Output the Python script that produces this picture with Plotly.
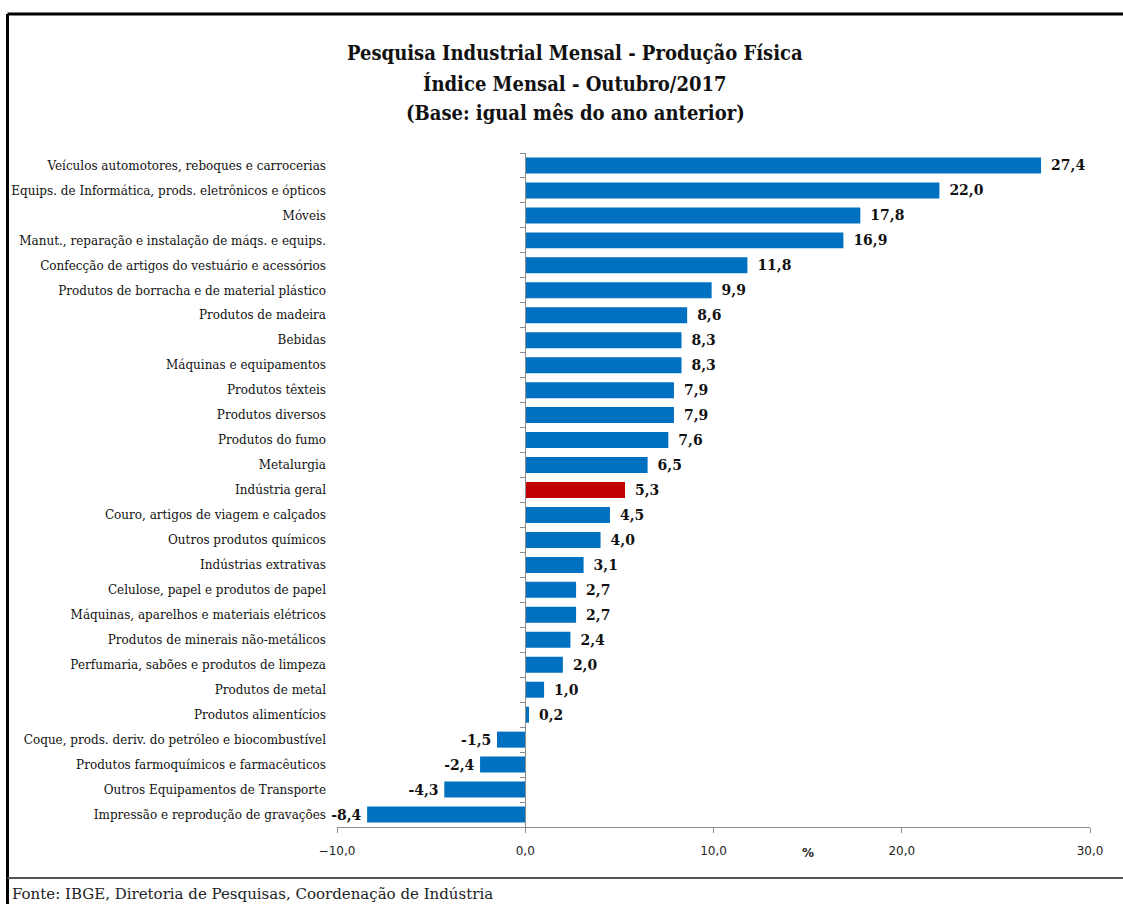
import plotly.graph_objects as go

categories = [
    "Veículos automotores, reboques e carrocerias",
    "Equips. de Informática, prods. eletrônicos e ópticos",
    "Móveis",
    "Manut., reparação e instalação de máqs. e equips.",
    "Confecção de artigos do vestuário e acessórios",
    "Produtos de borracha e de material plástico",
    "Produtos de madeira",
    "Bebidas",
    "Máquinas e equipamentos",
    "Produtos têxteis",
    "Produtos diversos",
    "Produtos do fumo",
    "Metalurgia",
    "Indústria geral",
    "Couro, artigos de viagem e calçados",
    "Outros produtos químicos",
    "Indústrias extrativas",
    "Celulose, papel e produtos de papel",
    "Máquinas, aparelhos e materiais elétricos",
    "Produtos de minerais não-metálicos",
    "Perfumaria, sabões e produtos de limpeza",
    "Produtos de metal",
    "Produtos alimentícios",
    "Coque, prods. deriv. do petróleo e biocombustível",
    "Produtos farmoquímicos e farmacêuticos",
    "Outros Equipamentos de Transporte",
    "Impressão e reprodução de gravações",
]
values = [27.4, 22.0, 17.8, 16.9, 11.8, 9.9, 8.6, 8.3, 8.3, 7.9, 7.9, 7.6, 6.5,
          5.3, 4.5, 4.0, 3.1, 2.7, 2.7, 2.4, 2.0, 1.0, 0.2, -1.5, -2.4, -4.3, -8.4]
highlight = "Indústria geral"
x_ticks = [-10, 0, 10, 20, 30]

BLUE = "#0070C0"
RED = "#C00000"
GRAY = "#8c8c8c"

colors = [RED if c == highlight else BLUE for c in categories]
templates = ["\u2002%{x:.1f}" if v >= 0 else "%{x:.1f}\u2009" for v in values]

xmin, xmax = x_ticks[0], x_ticks[-1]
n = len(categories)

fig = go.Figure()
fig.add_trace(go.Bar(
    x=values, y=categories, orientation="h",
    marker=dict(color=colors, line=dict(width=0)),
    texttemplate=templates, textposition="outside",
    textfont=dict(family="DejaVu Serif", size=14, color="#111111", weight="bold"),
    cliponaxis=False, showlegend=False, hoverinfo="x+y",
))
# ghost trace to display the zero axis with boundary ticks
fig.add_trace(go.Scatter(
    x=[0] * n, y=categories, yaxis="y2", mode="markers",
    marker=dict(opacity=0), showlegend=False, hoverinfo="skip",
))

L, R, T, B = 337, 33, 153, 77
W, H = 1123, 904
pw, ph = W - L - R, H - T - B

def px_x(p):
    return (p - L) / pw

def px_y(p):
    return (H - B - p) / ph

fig.update_layout(
    width=W, height=H,
    margin=dict(l=L, r=R, t=T, b=B, autoexpand=False),
    paper_bgcolor="white", plot_bgcolor="white",
    separators=",.",
    bargap=0.36,
    xaxis=dict(
        range=[xmin, xmax], tickvals=x_ticks, tickformat=".1f",
        showgrid=False, zeroline=False,
        showline=True, linecolor=GRAY, linewidth=1,
        ticks="outside", ticklen=5, tickcolor=GRAY, ticklabelstandoff=8,
        tickfont=dict(family="DejaVu Sans", size=12, color="#222222"),
    ),
    yaxis=dict(
        categoryorder="array", categoryarray=categories,
        range=[n - 0.5, -0.5], showgrid=False, zeroline=False,
        showline=False, ticks="", ticklabelstandoff=10,
        tickfont=dict(family="DejaVu Serif", size=12, color="#111111"),
    ),
    yaxis2=dict(
        overlaying="y", anchor="free", position=(0 - xmin) / (xmax - xmin),
        categoryorder="array", categoryarray=categories,
        range=[n - 0.5, -0.5], showgrid=False, zeroline=False,
        showline=True, linecolor=GRAY, linewidth=1,
        ticks="outside", tickson="boundaries", ticklen=5, tickcolor=GRAY,
        showticklabels=False,
    ),
    font=dict(family="DejaVu Serif Condensed"),
)

title_lines = [
    ("Pesquisa Industrial Mensal - Produção Física", 53),
    ("Índice Mensal - Outubro/2017", 84),
    ("(Base: igual mês do ano anterior)", 113),
]
for txt, py in title_lines:
    fig.add_annotation(
        text=txt, xref="paper", yref="paper", x=px_x(575), y=px_y(py),
        xanchor="center", yanchor="middle", showarrow=False,
        font=dict(family="DejaVu Serif Condensed", size=20, color="#111111", weight="bold"),
    )

fig.add_annotation(
    text="%", xref="x", yref="paper", x=15, y=px_y(853),
    xanchor="center", yanchor="middle", showarrow=False,
    font=dict(family="DejaVu Sans", size=12, color="#222222", weight="bold"),
)
fig.add_annotation(
    text="Fonte: IBGE, Diretoria de Pesquisas, Coordenação de Indústria",
    xref="paper", yref="paper", x=px_x(10), y=px_y(894),
    xanchor="left", yanchor="middle", showarrow=False,
    font=dict(family="DejaVu Serif", size=15, color="#222222"),
)

# frame: top and left black border, bottom gray separator
fig.add_shape(type="line", xref="paper", yref="paper",
              x0=px_x(7.5), x1=px_x(W + 5), y0=px_y(14), y1=px_y(14),
              line=dict(color="black", width=3))
fig.add_shape(type="line", xref="paper", yref="paper",
              x0=px_x(7.5), x1=px_x(7.5), y0=px_y(14), y1=px_y(H + 5),
              line=dict(color="black", width=3))
fig.add_shape(type="line", xref="paper", yref="paper",
              x0=px_x(7.5), x1=px_x(W + 5), y0=px_y(878), y1=px_y(878),
              line=dict(color="#555555", width=2))

fig.write_html("out.html", config={"displayModeBar": False},
               post_script="document.body.style.margin='0px';")
